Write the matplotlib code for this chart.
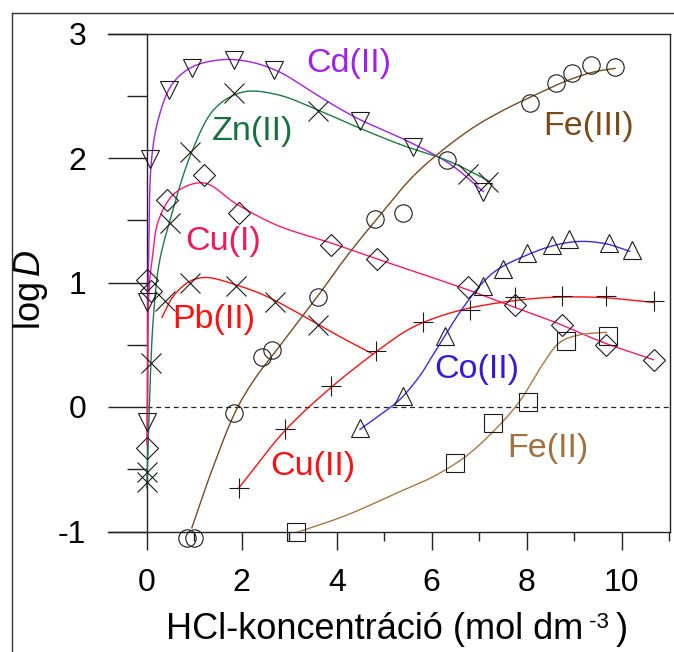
import numpy as np
import matplotlib
matplotlib.use("Agg")
import matplotlib.pyplot as plt
from matplotlib.lines import Line2D
from matplotlib.ticker import MultipleLocator, FixedLocator

plt.rcParams['font.family'] = ['Liberation Sans', 'DejaVu Sans']
plt.rcParams['mathtext.fontset'] = 'custom'
plt.rcParams['mathtext.rm'] = 'Liberation Sans'
plt.rcParams['mathtext.it'] = 'Liberation Sans:italic'
plt.rcParams['axes.unicode_minus'] = False

# ---------------- measured points ----------------
cd_x = [0.0, 0.0, 0.07, 0.47, 0.95, 1.84, 2.68, 4.48, 5.61, 7.09]
cd_y = [-0.12, 0.84, 1.99, 2.55, 2.72, 2.79, 2.71, 2.30, 2.09, 1.73]

zn_x = [0.0, 0.09, 0.49, 0.91, 1.84, 3.60, 6.77, 7.19]
zn_y = [-0.60, 0.35, 1.48, 2.05, 2.52, 2.38, 1.87, 1.81]

pb_x = [0.0, 0.39, 0.91, 1.87, 2.70, 3.61]
pb_y = [-0.52, 0.85, 1.00, 0.97, 0.84, 0.66]

cu1_x = [0.0, 0.0, 0.10, 0.42, 1.20, 1.95, 3.87, 4.84, 6.77, 7.75, 8.74, 9.68, 10.67]
cu1_y = [-0.33, 1.02, 0.93, 1.66, 1.86, 1.56, 1.30, 1.19, 0.96, 0.82, 0.66, 0.50, 0.38]

cu2_x = [1.94, 2.91, 3.89, 4.82, 5.82, 6.81, 7.75, 8.74, 9.68, 10.67]
cu2_y = [-0.65, -0.18, 0.17, 0.45, 0.68, 0.78, 0.88, 0.89, 0.89, 0.85]

fe3_x = [0.85, 1.00, 1.84, 2.42, 2.63, 3.61, 4.81, 5.40, 6.32, 8.07, 8.62, 8.95, 9.35, 9.86]
fe3_y = [-1.05, -1.05, -0.05, 0.40, 0.46, 0.88, 1.51, 1.56, 1.98, 2.44, 2.60, 2.68, 2.75, 2.73]

co_x = [4.48, 5.40, 6.28, 7.09, 7.51, 8.00, 8.53, 8.89, 9.73, 10.21]
co_y = [-0.17, 0.09, 0.57, 0.97, 1.11, 1.24, 1.30, 1.35, 1.32, 1.26]

fe2_x = [3.14, 6.49, 7.30, 8.02, 8.83, 9.72]
fe2_y = [-1.00, -0.45, -0.13, 0.04, 0.53, 0.57]

# ---------------- fitted curves ----------------
cd_fit_x = [0.01, 0.02, 0.04, 0.10, 0.25, 0.53, 0.95, 1.60, 2.20, 2.80, 3.40, 4.00, 4.48, 5.47, 6.39, 7.09]
cd_fit_y = [-0.30, 0.50, 1.20, 1.98, 2.32, 2.59, 2.73, 2.79, 2.77, 2.69, 2.55, 2.41, 2.31, 2.14, 1.95, 1.73]

zn_fit_x = [0.0, 0.07, 0.14, 0.26, 0.49, 0.95, 1.44, 2.03, 2.74, 3.58, 4.42, 5.33, 6.39, 7.23]
zn_fit_y = [-0.65, 0.18, 0.72, 1.15, 1.50, 2.05, 2.40, 2.53, 2.51, 2.39, 2.25, 2.11, 1.97, 1.81]

cu1_fit_x = [0.01, 0.02, 0.05, 0.12, 0.25, 0.60, 1.20, 1.89, 2.74, 3.86, 4.84, 5.70, 6.77, 7.75, 8.60, 9.60, 10.67]
cu1_fit_y = [-0.30, 0.40, 0.95, 1.20, 1.50, 1.72, 1.80, 1.63, 1.46, 1.32, 1.19, 1.08, 0.94, 0.80, 0.68, 0.52, 0.38]

pb_fit_x = [0.32, 0.56, 0.91, 1.26, 1.89, 2.46, 3.02, 3.58, 4.14, 4.74]
pb_fit_y = [0.72, 0.89, 1.01, 1.04, 0.98, 0.90, 0.79, 0.67, 0.55, 0.43]

cu2_fit_x = [1.94, 2.91, 3.89, 4.82, 5.50, 6.03, 6.74, 7.65, 8.49, 9.54, 10.67]
cu2_fit_y = [-0.65, -0.19, 0.16, 0.44, 0.62, 0.71, 0.79, 0.85, 0.88, 0.88, 0.84]

fe3_fit_x = [0.95, 1.40, 1.89, 2.30, 2.74, 3.58, 4.21, 4.91, 5.68, 6.74, 7.44, 8.14, 8.84, 9.40, 9.86]
fe3_fit_y = [-0.97, -0.48, -0.02, 0.24, 0.46, 0.88, 1.21, 1.54, 1.88, 2.21, 2.37, 2.50, 2.62, 2.69, 2.72]

co_fit_x = [4.49, 5.00, 5.33, 5.75, 6.03, 6.74, 7.30, 8.00, 8.60, 9.12, 9.68, 10.17]
co_fit_y = [-0.18, -0.04, 0.06, 0.25, 0.42, 0.84, 1.08, 1.22, 1.30, 1.33, 1.31, 1.25]

fe2_fit_x = [3.14, 4.20, 5.33, 6.03, 6.74, 7.44, 7.86, 8.35, 8.70, 9.12, 9.68]
fe2_fit_y = [-1.01, -0.87, -0.68, -0.56, -0.39, -0.14, 0.05, 0.35, 0.52, 0.58, 0.60]

y_ticks = [-1, 0, 1, 2, 3]
x_ticks = [0, 2, 4, 6, 8, 10]

# ---------------- figure ----------------
W, H = 674, 652
fig = plt.figure(figsize=(W / 100, H / 100), dpi=100)
ax = fig.add_axes([108 / W, (H - 531.5) / H, (670 - 108) / W, (531.5 - 33.5) / H])
ax.set_xlim(-0.815, 11.017)
ax.set_ylim(-1, 3)

for s in ['top', 'right', 'bottom']:
    ax.spines[s].set_linewidth(1.0)
    ax.spines[s].set_color('#222222')
ax.spines['left'].set_position(('data', 0))
ax.spines['left'].set_linewidth(1.0)
ax.spines['left'].set_color('#222222')

ax.yaxis.set_major_locator(FixedLocator(y_ticks))
ax.yaxis.set_minor_locator(MultipleLocator(0.5))
ax.xaxis.set_major_locator(FixedLocator(x_ticks))
ax.xaxis.set_minor_locator(MultipleLocator(1))
ax.set_yticklabels([str(v) for v in y_ticks])
ax.set_xticklabels([str(v) for v in x_ticks])
ax.tick_params(axis='y', which='major', direction='out', length=27.9, width=1.0,
               pad=15.5, labelsize=23, color='#222222')
ax.tick_params(axis='y', which='minor', direction='out', length=14.4, width=1.0, color='#222222')
ax.tick_params(axis='x', which='major', direction='out', length=13, width=1.0,
               pad=13, labelsize=23, color='#222222')
ax.tick_params(axis='x', which='minor', direction='out', length=6.5, width=1.0, color='#222222')

ax.plot([0, 11.017], [0, 0], ls=(0, (4, 3)), color='#222222', lw=0.9)

fig.canvas.draw()


def smooth(xs, ys, n=40):
    """Centripetal Catmull-Rom spline computed in display space."""
    P = ax.transData.transform(np.column_stack([xs, ys]))
    P = np.vstack([2 * P[0] - P[1], P, 2 * P[-1] - P[-2]])
    out = []
    for i in range(1, len(P) - 2):
        p0, p1, p2, p3 = P[i - 1], P[i], P[i + 1], P[i + 2]
        t0 = 0.0
        t1 = t0 + np.linalg.norm(p1 - p0) ** 0.5 + 1e-9
        t2 = t1 + np.linalg.norm(p2 - p1) ** 0.5 + 1e-9
        t3 = t2 + np.linalg.norm(p3 - p2) ** 0.5 + 1e-9
        t = np.linspace(t1, t2, n)[:, None]
        a1 = (t1 - t) / (t1 - t0) * p0 + (t - t0) / (t1 - t0) * p1
        a2 = (t2 - t) / (t2 - t1) * p1 + (t - t1) / (t2 - t1) * p2
        a3 = (t3 - t) / (t3 - t2) * p2 + (t - t2) / (t3 - t2) * p3
        b1 = (t2 - t) / (t2 - t0) * a1 + (t - t0) / (t2 - t0) * a2
        b2 = (t3 - t) / (t3 - t1) * a2 + (t - t1) / (t3 - t1) * a3
        c = (t2 - t) / (t2 - t1) * b1 + (t - t1) / (t2 - t1) * b2
        out.append(c)
    D = ax.transData.inverted().transform(np.vstack(out))
    return D[:, 0], D[:, 1]


curves = [
    (cd_fit_x, cd_fit_y, '#A020F0'),
    (zn_fit_x, zn_fit_y, '#1F7A45'),
    (cu1_fit_x, cu1_fit_y, '#FF1A6E'),
    (pb_fit_x, pb_fit_y, '#FF1010'),
    (cu2_fit_x, cu2_fit_y, '#FF1010'),
    (fe3_fit_x, fe3_fit_y, '#7A4A20'),
    (co_fit_x, co_fit_y, '#3A2AF0'),
    (fe2_fit_x, fe2_fit_y, '#A87844'),
]
for xs, ys, c in curves:
    sx, sy = smooth(xs, ys)
    ax.plot(sx, sy, color=c, lw=1.0, zorder=3)

mk = dict(ls='none', mfc='none', mec='#1a1a1a', mew=0.8, clip_on=False, zorder=4)
ax.plot(cd_x, cd_y, marker='v', ms=13.5, **mk)
ax.plot(co_x, co_y, marker='^', ms=13.5, **mk)
ax.plot(zn_x, zn_y, marker='x', ms=14.5, **mk)
ax.plot(pb_x, pb_y, marker='x', ms=14.5, **mk)
ax.plot(cu1_x, cu1_y, marker='D', ms=11, **mk)
ax.plot(cu2_x, cu2_y, marker='+', ms=15, **mk)
ax.plot(fe3_x, fe3_y, marker='o', ms=12.5, **mk)
ax.plot(fe2_x, fe2_y, marker='s', ms=13.5, **mk)

labels = [
    ('Cd(II)', 4.26, 2.76, '#A020F0'),
    ('Zn(II)', 2.22, 2.21, '#167040'),
    ('Cu(I)', 1.61, 1.33, '#F0185A'),
    ('Pb(II)', 1.42, 0.70, '#FF1010'),
    ('Cu(II)', 3.50, -0.48, '#FF1010'),
    ('Fe(III)', 9.31, 2.25, '#7A4A18'),
    ('Co(II)', 6.95, 0.30, '#3A18D8'),
    ('Fe(II)', 8.45, -0.33, '#A0703E'),
]
for t, x, y, c in labels:
    ax.text(x, y, t, color=c, fontsize=24.5, ha='center', va='center', zorder=5)

# y label
fig.text(31 / W, 1 - 290 / H, r'log$\,\mathit{D}$', rotation=90, ha='center', va='center',
         fontsize=26)

# x label composed of pieces so the superscript keeps a plain hyphen
renderer = fig.canvas.get_renderer()
base_y = (H - 639) / H
xl_size = 26
t1 = fig.text(0, base_y, 'HCl-koncentráció (mol dm', fontsize=xl_size, ha='left', va='baseline')
t2 = fig.text(0, base_y, '-3', fontsize=xl_size * 0.62, ha='left', va='baseline')
t3 = fig.text(0, base_y, ')', fontsize=xl_size, ha='left', va='baseline')
w1 = t1.get_window_extent(renderer).width
w2 = t2.get_window_extent(renderer).width
w3 = t3.get_window_extent(renderer).width
gap1, gap2 = 6, 7
total = w1 + gap1 + w2 + gap2 + w3
x0 = 397 - total / 2
t1.set_x(x0 / W)
t2.set_x((x0 + w1 + gap1) / W)
t2.set_y(base_y + 11 / H)
t3.set_x((x0 + w1 + gap1 + w2 + gap2) / W)

# outer (cropped) picture border
fig.add_artist(Line2D([12 / W, 12 / W], [0, 1 - 12.7 / H], transform=fig.transFigure,
                      color='#333333', lw=1.0))
fig.add_artist(Line2D([12 / W, 1], [1 - 12.7 / H, 1 - 12.7 / H], transform=fig.transFigure,
                      color='#333333', lw=1.0))

fig.savefig('out.png', dpi=100)
